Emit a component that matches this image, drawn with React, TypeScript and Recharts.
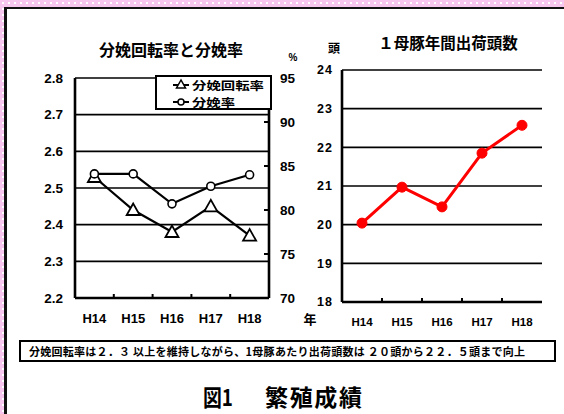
import React from 'react';
import { LineChart, Line, XAxis, YAxis, CartesianGrid } from 'recharts';

const years = ['H14', 'H15', 'H16', 'H17', 'H18'];
const rotation = [2.53, 2.44, 2.38, 2.45, 2.37];
const farrowRate = [84.1, 84.1, 80.7, 82.7, 84.0];
const shipped = [20.04, 20.97, 20.46, 21.85, 22.57];

const rotationTicks = [2.2, 2.3, 2.4, 2.5, 2.6, 2.7, 2.8];
const rateTicks = [70, 75, 80, 85, 90, 95];
const shipTicks = [18, 19, 20, 21, 22, 23, 24];

const leftData = years.map((y, i) => ({ year: y, rotation: rotation[i], rate: farrowRate[i] }));
const rightData = years.map((y, i) => ({ year: y, shipped: shipped[i] }));

const NUM = '"Liberation Sans", Arial, sans-serif';
const JP = '"Noto Sans CJK JP", "Noto Sans", sans-serif';
const FRAME = { stroke: '#000', strokeWidth: 2.6 };

const XTick = (props: any) => {
  const { x, y, payload, index, band, size, dy } = props;
  return (
    <g>
      {index > 0 && (
        <line x1={x - band / 2} x2={x - band / 2} y1={y} y2={y - 4} stroke="#000" strokeWidth={2} />
      )}
      <text x={x} y={y + dy} textAnchor="middle" fontFamily={NUM} fontWeight="bold" fontSize={size} fill="#000">
        {payload.value}
      </text>
    </g>
  );
};

const RateTick = (props: any) => {
  const { x, y, payload } = props;
  return (
    <g>
      <line x1={x - 5} x2={x} y1={y} y2={y} stroke="#000" strokeWidth={2} />
      <text x={x + 11} y={y + 5} textAnchor="start" fontFamily={NUM} fontWeight="bold" fontSize={13.5} fill="#000">
        {payload.value}
      </text>
    </g>
  );
};

const TriangleDot = (props: any) => {
  const { cx, cy } = props;
  if (cx == null || cy == null) return null;
  return (
    <path
      d={`M${cx},${cy - 6.5} L${cx - 6.5},${cy + 5} L${cx + 6.5},${cy + 5} Z`}
      fill="#fff"
      stroke="#000"
      strokeWidth={1.8}
    />
  );
};

export default function App() {
  return (
    <div
      style={{
        position: 'absolute',
        left: 0,
        top: 0,
        width: 564,
        height: 414,
        overflow: 'hidden',
        backgroundColor: '#f7c6ef',
        backgroundImage: 'radial-gradient(circle, #fff 0.8px, transparent 1.2px)',
        backgroundSize: '6px 6px',
      }}
    >
      <div
        style={{
          position: 'absolute',
          left: 4,
          top: 7,
          width: 600,
          height: 440,
          background: '#fff',
          borderLeft: '3px solid #111',
          borderTop: '2px solid #111',
        }}
      />

      {/* 分娩回転率と分娩率 */}
      <div style={{ position: 'absolute', left: 0, top: 0 }}>
        <LineChart width={300} height={340} data={leftData} margin={{ top: 78, right: 0, bottom: 12, left: 30 }}>
          <CartesianGrid yAxisId="l" horizontal vertical={false} stroke="#000" strokeWidth={1.6} />
          <XAxis
            dataKey="year"
            interval={0}
            padding={{ left: 19.4, right: 19.4 }}
            height={30}
            tickSize={0}
            tickMargin={0}
            tickLine={false}
            axisLine={FRAME}
            tick={<XTick band={38.8} size={13} dy={25} />}
          />
          <XAxis
            xAxisId="top"
            dataKey="year"
            orientation="top"
            height={0}
            tick={false}
            tickLine={false}
            axisLine={FRAME}
          />
          <YAxis
            yAxisId="l"
            domain={[2.2, 2.8]}
            ticks={rotationTicks}
            interval={0}
            width={45}
            tickSize={0}
            tickMargin={12}
            tickLine={false}
            axisLine={FRAME}
            tickFormatter={(v: number) => v.toFixed(1)}
            tick={{ fill: '#000', fontFamily: NUM, fontWeight: 'bold', fontSize: 13.5 }}
          />
          <YAxis
            yAxisId="r"
            orientation="right"
            domain={[70, 95]}
            ticks={rateTicks}
            interval={0}
            width={31}
            tickSize={0}
            tickMargin={0}
            tickLine={false}
            axisLine={FRAME}
            tick={<RateTick />}
          />
          <Line
            yAxisId="l"
            dataKey="rotation"
            stroke="#000"
            strokeWidth={2.2}
            dot={<TriangleDot />}
            isAnimationActive={false}
          />
          <Line
            yAxisId="r"
            dataKey="rate"
            stroke="#000"
            strokeWidth={2.2}
            dot={{ r: 4, fill: '#fff', stroke: '#000', strokeWidth: 1.6 }}
            isAnimationActive={false}
          />
        </LineChart>
      </div>

      {/* １母豚年間出荷頭数 */}
      <div style={{ position: 'absolute', left: 300, top: 0 }}>
        <LineChart width={250} height={340} data={rightData} margin={{ top: 70, right: 8, bottom: 8, left: 12 }}>
          <CartesianGrid yAxisId="s" horizontal vertical={false} stroke="#000" strokeWidth={1.6} />
          <XAxis
            dataKey="year"
            interval={0}
            padding={{ left: 20, right: 20 }}
            height={30}
            tickSize={0}
            tickMargin={0}
            tickLine={false}
            axisLine={FRAME}
            tick={<XTick band={40} size={11.5} dy={24} />}
          />
          <XAxis
            xAxisId="top"
            dataKey="year"
            orientation="top"
            height={0}
            tick={false}
            tickLine={false}
            axisLine={FRAME}
          />
          <YAxis
            yAxisId="s"
            domain={[18, 24]}
            ticks={shipTicks}
            interval={0}
            width={30}
            tickSize={0}
            tickMargin={9}
            tickLine={false}
            axisLine={FRAME}
            tick={{ fill: '#000', fontFamily: NUM, fontWeight: 'bold', fontSize: 12.5, letterSpacing: 1 }}
          />
          <YAxis
            yAxisId="edge"
            orientation="right"
            width={0}
            tick={false}
            tickLine={false}
            axisLine={FRAME}
          />
          <Line
            yAxisId="s"
            dataKey="shipped"
            stroke="#ff0000"
            strokeWidth={3}
            dot={{ r: 5, fill: '#ff0000', stroke: '#ff0000', strokeWidth: 1 }}
            isAnimationActive={false}
          />
        </LineChart>
      </div>

      {/* legend */}
      <div
        style={{
          position: 'absolute',
          left: 155,
          top: 75,
          width: 113,
          height: 31,
          background: '#fff',
          border: '2px solid #000',
        }}
      >
        <svg width={113} height={31} style={{ position: 'absolute', left: 0, top: 0 }}>
          <line x1={16} x2={32} y1={8} y2={8} stroke="#000" strokeWidth={2} />
          <path d="M24,3 L19.5,11 L28.5,11 Z" fill="#fff" stroke="#000" strokeWidth={1.5} />
          <text x={35} y={12.5} textLength={72} lengthAdjust="spacingAndGlyphs" fontFamily={JP} fontWeight="bold" fontSize={11.5} fill="#000">
            分娩回転率
          </text>
          <line x1={16} x2={32} y1={25} y2={25} stroke="#000" strokeWidth={2} />
          <circle cx={24} cy={25} r={3} fill="#fff" stroke="#000" strokeWidth={1.5} />
          <text x={35} y={29.5} textLength={43} lengthAdjust="spacingAndGlyphs" fontFamily={JP} fontWeight="bold" fontSize={11.5} fill="#000">
            分娩率
          </text>
        </svg>
      </div>

      <svg width={564} height={414} style={{ position: 'absolute', left: 0, top: 0, pointerEvents: 'none' }}>
        <text x={171} y={56} textAnchor="middle" fontFamily={JP} fontWeight="bold" fontSize={16} fill="#000">
          分娩回転率と分娩率
        </text>
        <text x={293} y={61} textAnchor="middle" fontFamily={NUM} fontWeight="bold" fontSize={10} fill="#000">%</text>
        <text x={448} y={49} textAnchor="middle" fontFamily={JP} fontWeight="bold" fontSize={15.5} fill="#000">
          １母豚年間出荷頭数
        </text>
        <text x={334} y={53} textAnchor="middle" fontFamily={JP} fontWeight="bold" fontSize={12} fill="#000">頭</text>
        <text x={310} y={324} textAnchor="middle" fontFamily={JP} fontWeight="bold" fontSize={13} fill="#000">年</text>

        <rect x={20} y={341} width={535} height={20} fill="#fff" stroke="#000" strokeWidth={2} />
        <text
          x={29}
          y={356}
          textLength={496}
          lengthAdjust="spacing"
          fontFamily={JP}
          fontWeight="bold"
          fontSize={11}
          fill="#000"
        >
          分娩回転率は２．３ 以上を維持しながら、1母豚あたり出荷頭数は ２０頭から２２．５頭まで向上
        </text>

        <text x={203} y={406} textLength={30} lengthAdjust="spacingAndGlyphs" fontFamily={JP} fontWeight="bold" fontSize={23} fill="#000">
          図1
        </text>
        <text x={265} y={406} textLength={97} lengthAdjust="spacing" fontFamily={JP} fontWeight="bold" fontSize={23} fill="#000">
          繁殖成績
        </text>
      </svg>
    </div>
  );
}
